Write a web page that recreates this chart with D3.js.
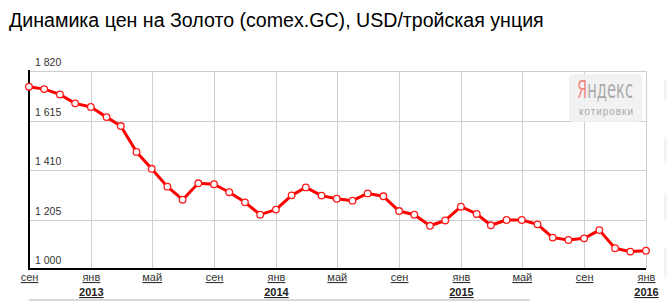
<!DOCTYPE html>
<html>
<head>
<meta charset="utf-8">
<script src="https://cdn.jsdelivr.net/npm/d3@7"></script>
<style>
  html, body { margin: 0; padding: 0; background: #fff; }
  svg text { font-family: "Liberation Sans", Arial, sans-serif; }
</style>
</head>
<body>
<div id="chart"></div>
<script>
// monthly gold price, Sep 2012 .. Jan 2016
var firstMonth = new Date(2012, 8, 1);
var prices = [1755, 1745, 1723, 1686, 1671, 1629, 1592, 1485, 1415, 1341,
              1287, 1355, 1351, 1318, 1276, 1225, 1246, 1305, 1338, 1304,
              1291, 1283, 1313, 1301, 1240, 1225, 1179, 1201, 1258, 1228,
              1181, 1203, 1203, 1185, 1130, 1120, 1127, 1161, 1086, 1072,
              1076];
var yTicks = [1000, 1205, 1410, 1615, 1820];
var monthLabels = ['сен', 'янв', 'май', 'сен', 'янв', 'май', 'сен', 'янв', 'май', 'сен', 'янв'];
var yearLabels = {1: '2013', 4: '2014', 7: '2015', 10: '2016'};
var title = 'Динамика цен на Золото (comex.GC), USD/тройская унция';

var W = 667, H = 301;
var mLeft = 29, mRight = 646, mTop = 71, mBottom = 269;

var data = prices.map(function(v, i) {
  return {date: d3.timeMonth.offset(firstMonth, i), value: v};
});

var svg = d3.select('#chart')
  .append('svg')
  .attr('width', W)
  .attr('height', H);

var x = d3.scaleTime()
  .domain([data[0].date, data[data.length - 1].date])
  .range([mLeft, mRight]);

var y = d3.scaleLinear()
  .domain([1000, 1820])
  .range([mBottom, mTop]);

var ruFormat = d3.formatLocale({decimal: ',', thousands: ' ', grouping: [3], currency: ['', '']}).format(',d');

svg.append('text')
  .text(title)
  .attr('x', 9)
  .attr('y', 27)
  .attr('font-size', 19.6)
  .style('fill', '#000');

// faint blocks of the neighbouring widget at the right edge
[[80, 20], [137, 26], [193, 27], [248, 29]].forEach(function(b) {
  svg.append('rect')
    .attr('x', 664).attr('y', b[0])
    .attr('width', 3).attr('height', b[1])
    .style('fill', '#f3f3f3');
});

var monthTicks = d3.timeMonth.every(4).range(data[0].date, d3.timeMonth.offset(data[data.length - 1].date, 1));

// grid
svg.append('g')
  .selectAll('line')
  .data(yTicks.slice(1))
  .join('line')
  .attr('x1', mLeft).attr('x2', mRight)
  .attr('y1', function(d) { return Math.round(y(d)) + 0.5; })
  .attr('y2', function(d) { return Math.round(y(d)) + 0.5; })
  .style('stroke', '#cfcfcf');

svg.append('g')
  .selectAll('line')
  .data(monthTicks.slice(1))
  .join('line')
  .attr('x1', function(d) { return Math.round(x(d)) + 0.5; })
  .attr('x2', function(d) { return Math.round(x(d)) + 0.5; })
  .attr('y1', mTop).attr('y2', mBottom)
  .style('stroke', '#cfcfcf');

// yandex badge
var logo = svg.append('g').style('opacity', 0.85);
logo.append('rect')
  .attr('x', 569).attr('y', 74)
  .attr('width', 73).attr('height', 48)
  .attr('rx', 4)
  .style('fill', '#f0f0f0');
var brand = logo.append('text')
  .attr('x', 577).attr('y', 98)
  .attr('font-size', 24)
  .attr('textLength', 56)
  .attr('lengthAdjust', 'spacingAndGlyphs')
  .style('font-family', '"Liberation Sans Narrow", "DejaVu Sans Condensed", sans-serif');
brand.append('tspan').text('Я').style('fill', '#f07a7a');
brand.append('tspan').text('ндекс').style('fill', '#9c9c9c');
logo.append('text')
  .text('котировки')
  .attr('x', 579).attr('y', 115)
  .attr('font-size', 10)
  .attr('textLength', 54)
  .style('fill', '#9a9a9a');

// axes
svg.append('line')
  .attr('x1', mLeft).attr('x2', mLeft)
  .attr('y1', mTop - 1).attr('y2', mBottom + 1)
  .style('stroke', '#000').style('stroke-width', 2);
svg.append('line')
  .attr('x1', mLeft - 1).attr('x2', mRight)
  .attr('y1', mBottom).attr('y2', mBottom)
  .style('stroke', '#000').style('stroke-width', 2);

svg.append('g')
  .selectAll('text')
  .data(yTicks)
  .join('text')
  .text(function(d) { return ruFormat(d); })
  .attr('x', 35)
  .attr('y', function(d) { return y(d) - 5; })
  .attr('font-size', 10.5)
  .style('fill', '#333');

var xAxis = svg.append('g')
  .attr('transform', 'translate(0,' + mBottom + ')')
  .call(d3.axisBottom(x)
    .tickValues(monthTicks)
    .tickSize(0)
    .tickPadding(0)
    .tickFormat(function(d, i) { return monthLabels[i]; }));
xAxis.select('.domain').remove();
xAxis.selectAll('.tick text')
  .attr('y', 12)
  .attr('dy', null)
  .attr('font-size', 11)
  .style('font-family', '"Liberation Sans", Arial, sans-serif')
  .style('fill', '#333')
  .style('text-decoration', 'underline');
xAxis.selectAll('.tick')
  .filter(function(d) { return yearLabels[monthTicks.indexOf(d)]; })
  .append('text')
  .text(function(d) { return yearLabels[monthTicks.indexOf(d)]; })
  .attr('y', 27)
  .attr('text-anchor', 'middle')
  .attr('font-size', 11)
  .style('font-weight', 'bold')
  .style('fill', '#222')
  .style('text-decoration', 'underline');

svg.append('line')
  .attr('x1', mLeft).attr('x2', 530)
  .attr('y1', 300).attr('y2', 300)
  .style('stroke', '#d8d8d8').style('stroke-width', 2);

// price line
var line = d3.line()
  .x(function(d) { return x(d.date); })
  .y(function(d) { return y(d.value); });

svg.append('path')
  .datum(data)
  .attr('d', line)
  .style('fill', 'none')
  .style('stroke', '#ff0000')
  .style('stroke-width', 3)
  .style('stroke-linejoin', 'round');

svg.append('g')
  .selectAll('circle')
  .data(data)
  .join('circle')
  .attr('cx', function(d) { return x(d.date); })
  .attr('cy', function(d) { return y(d.value); })
  .attr('r', 3.3)
  .style('fill', '#fff')
  .style('stroke', '#ff1a1a')
  .style('stroke-width', 1.3);
</script>
</body>
</html>
